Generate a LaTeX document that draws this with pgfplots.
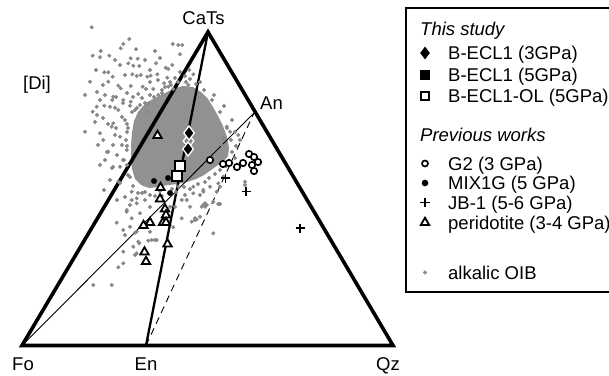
\documentclass[border=0pt]{standalone}
\usepackage{pgfplots}
\pgfplotsset{compat=1.18}
\usepackage{fontspec}
\setmainfont{Liberation Sans}
\definecolor{oib}{gray}{0.53}
\definecolor{oibcore}{gray}{0.57}
\begin{document}
\fontsize{18.5bp}{21bp}\selectfont
\begin{tikzpicture}
\useasboundingbox (0,0) rectangle (609bp,376bp);
\clip (0,0) rectangle (609bp,376bp);
\begin{axis}[
  at={(0,0)}, anchor=south west,
  scale only axis, width=609bp, height=376bp,
  xmin=0, xmax=609, ymin=0, ymax=376, y dir=reverse,
  hide axis, clip=false,
]
% dense core of alkalic OIB compositions
\addplot[fill=oibcore, draw=none] coordinates {
(183,86) (193,87) (201,92) (208,99) (213,107) (218,116) (223,126) (227,137)
(229,148) (228,156) (224,161) (218,165) (211,170) (204,175) (196,179) (187,182)
(178,184) (168,185) (158,187) (149,188) (141,185) (135,179) (132,169) (131,158)
(131,145) (132,133) (134,121) (138,112) (144,105) (151,100) (159,96) (167,92) (175,88)
} -- cycle;
% scattered alkalic OIB
\addplot[only marks, mark=*, mark size=1.8bp, color=oib] coordinates {
(91.7,27.3) (129.3,39) (123.3,44) (120.7,48.3) (100.7,51) (136,49.3) (155,51)
(172.7,44) (178.3,45) (182.3,45) (92.7,55.7) (100,57.3) (109.3,55.7) (130.7,58.3)
(137.7,58.7) (180,54.3) (128.3,63.3) (133.3,65.7) (139.3,66) (156,63.3) (165.7,67.7)
(168.3,69) (172.3,65) (104.3,72.3) (108.3,72.3) (112.7,76.7) (132.3,74.3) (136.7,76)
(140.7,75) (147.3,76.7) (150.7,75.7) (157.3,74.3) (189.3,70) (193.3,74.3) (167.3,77.7)
(90,81.7) (108.3,81.7) (118.3,85.7) (120.7,88.3) (130.7,86) (142.7,86.7) (146,89)
(153.3,89) (164,83.3) (168.3,86.7) (173.3,89) (188.3,85) (138.3,94) (113.3,96.7)
(112.3,100) (123.3,100) (130.7,101.7) (148.3,103.3) (158.3,95) (100,100) (104.3,105.7)
(115,107.7) (118.3,110) (130,105.7) (135,110) (92.7,111.7) (146.7,111.7)
(85,131.7) (97,115) (100,133.3) (103.3,140) (108.3,151.7) (113.3,123.3) (110,106.7)
(126.7,150) (120,166.7) (118.3,181.7) (111.7,126.7) (120,136.7) (110,180) (96.7,106.7)
(116,97) (123,103) (122,117) (127,124)
(97,92) (105,95) (127,93) (133,97) (142,98) (103,118) (108,124) (116,128) (95,122)
(98,145) (105,160) (113,145) (117,155) (112,168) (100,165) (122,145) (115,135) (127,132)
(107,152) (123,160) (113,167) (120,183) (130,177) (125,197) (117,200) (104,190)
(150,82) (158,80) (162,90) (175,78) (180,72) (185,76) (170,82) (150,70) (160,58)
(145,60) (120,65) (115,60) (125,75) (103,85) (96,70) (85,95)
(131.7,200) (126.7,210) (136.7,203.3) (140,213.3) (131.7,218.3) (136.7,231.7) (150,231.7)
(133.3,246.7) (139.3,243.3) (123.3,263.3) (111.7,285) (131.7,191.7) (136.7,198.3)
(130,205) (126.7,211.7) (116.7,222.7) (123.3,230) (130,226.7) (135,232.7) (138.3,241.7)
(148.3,240.7) (151.7,240) (156.7,240) (123.3,251.7) (135,255) (118.3,267.3) (125,235)
(93.3,285) (136.7,253.3) (155,240) (145,200) (150,207) (142,193) (155,196)
(200,216.7) (191.7,221.7) (213.3,233.3) (181.7,200) (170,206.7) (178.3,186.7) (175,206.7)
(181.7,218.3) (196.7,219.3) (205,206.7) (186.7,200) (195,218.3) (203.3,205) (218.3,204)
(173.3,227.3) (190,206.7) (205,203.3) (220,204) (185,195) (193.3,193.3) (203.3,191.7)
(245,181.7) (245,185) (203.3,190) (210,186.7) (218.3,183.3) (223.3,176.7) (193.3,186.7)
(200,195) (201.7,206.7) (206.7,205) (213.3,201.7) (216.7,191.7) (220,186.7) (195,220)
(226.7,126.7) (230,131.7) (240,140) (223.3,138.3) (221.7,145) (235,131.7) (238.3,135)
(125,120) (126,140) (124,160) (128,175) (138,193) (150,195) (162,196) (176,192)
(190,189) (205,182) (215,174) (226,166) (235,158) (236,146) (232,120) (224,106)
(214,95) (200,82) (190,79) (178,82) (165,87) (150,95) (140,105) (132,112)
(128,128) (127,146) (127,165) (133,186) (145,192) (160,191) (172,189) (184,187)
(198,184) (209,178) (220,170) (230,162) (232,152) (231,140) (227,128) (220,112)
(212,100) (204,90) (196,84) (186,82) (171,85) (162,93) (154,97) (145,103) (137,108)
};
% frame triangle and joins
\addplot[line width=3.6bp, line join=miter] coordinates {(22,345.5) (393,345.5) (208,32)} -- cycle;
\addplot[line width=2.3bp] coordinates {(208,32) (146,345.5)};
\addplot[line width=0.9bp] coordinates {(22,345.5) (254,113)};
\addplot[line width=0.9bp, dash pattern=on 7bp off 5bp] coordinates {(146,345.5) (254,113)};
% peridotite (3-4 GPa)
\addplot[only marks, mark=triangle*, mark size=4.8bp, line width=1.8bp, draw=black, fill=white] coordinates {
(157.5,135.5) (160.5,187.5) (160,199) (165,209) (166,215) (163,222.5) (166,222.5)
(150,222.5) (143.5,225.5) (167.5,244) (144.5,252) (146,261.5)
};
% G2 (3 GPa)
\addplot[only marks, mark=*, mark size=3.2bp, line width=1.7bp, draw=black, fill=white] coordinates {
(210,160) (223,164) (229,163) (237,167) (243,163) (249,154) (254,157) (258,162)
(252,165) (254,171)
};
% MIX1G (5 GPa)
\addplot[only marks, mark=*, mark size=2.7bp, black] coordinates {(154,181) (168,178) (170,193)};
% JB-1 (5-6 GPa)
\addplot[only marks, mark=+, mark size=4.5bp, line width=1.9bp, black] coordinates {(225.5,178) (246,191.5) (300,228)};
% B-ECL1 (3GPa)
\addplot[only marks, mark=diamond*, mark size=7bp, line width=1.3bp, draw=white, fill=oib] coordinates {(188.5,141)};
\addplot[only marks, mark=diamond*, mark size=7bp, line width=1.3bp, draw=white, fill=black] coordinates {(189,133) (188,149)};
% B-ECL1-OL (5GPa)
\addplot[only marks, mark=square*, mark size=5bp, line width=1.7bp, draw=black, fill=white] coordinates {(180,166) (177,176)};
% vertex labels
\node[anchor=base] at (axis cs:203.5,25) {CaTs};
\node[anchor=base] at (axis cs:37,89) {[Di]};
\node[anchor=base] at (axis cs:271.5,109.3) {An};
\node[anchor=base] at (axis cs:23,370) {Fo};
\node[anchor=base] at (axis cs:146,370) {En};
\node[anchor=base] at (axis cs:388,370) {Qz};
% legend
\draw[line width=2.2bp] (axis cs:406,8) rectangle (axis cs:700,292);
\begin{scope}[every node/.style={anchor=base west, inner sep=0pt}]
\node at (axis cs:420,35) {\itshape This study};
\node at (axis cs:448,59.5) {B-ECL1 (3GPa)};
\node at (axis cs:448,81) {B-ECL1 (5GPa)};
\node at (axis cs:448,102.5) {B-ECL1-OL (5GPa)};
\node at (axis cs:420,141.5) {\itshape Previous works};
\node at (axis cs:448,170) {G2 (3 GPa)};
\node at (axis cs:448,189.5) {MIX1G (5 GPa)};
\node at (axis cs:448,209) {JB-1 (5-6 GPa)};
\node at (axis cs:448,229) {peridotite (3-4 GPa)};
\node at (axis cs:448,279) {alkalic OIB};
\end{scope}
\addplot[only marks, mark=diamond*, mark size=6bp, black] coordinates {(425,53)};
\addplot[only marks, mark=square*, mark size=4.4bp, black] coordinates {(425,74.5)};
\addplot[only marks, mark=square*, mark size=4.2bp, line width=1.7bp, draw=black, fill=white] coordinates {(425,96)};
\addplot[only marks, mark=*, mark size=3bp, line width=1.7bp, draw=black, fill=white] coordinates {(425,163.5)};
\addplot[only marks, mark=*, mark size=3.1bp, black] coordinates {(425,183)};
\addplot[only marks, mark=+, mark size=4.8bp, line width=1.9bp, black] coordinates {(425,202.5)};
\addplot[only marks, mark=triangle*, mark size=4.8bp, line width=1.8bp, draw=black, fill=white] coordinates {(425,222.5)};
\addplot[only marks, mark=*, mark size=1.8bp, color=oib] coordinates {(425,272.5)};
\end{axis}
\end{tikzpicture}
\end{document}
